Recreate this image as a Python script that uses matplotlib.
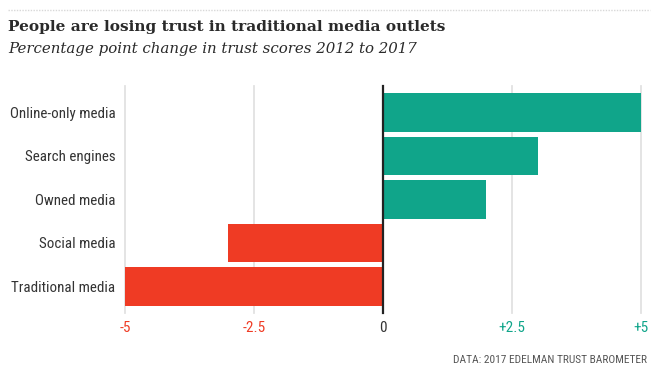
import matplotlib
matplotlib.use("Agg")
import matplotlib.pyplot as plt
from matplotlib import font_manager as fm

categories = ["Online-only media", "Search engines", "Owned media", "Social media", "Traditional media"]
values = [5, 3, 2, -3, -5]
ticks = [-5, -2.5, 0, 2.5, 5]
tick_labels = ["-5", "-2.5", "0", "+2.5", "+5"]

GREEN = "#10a58a"
RED = "#ef3b24"

# find a condensed sans font if one exists
cond_file = None
prefs = ["Liberation Sans Narrow", "Roboto Condensed", "Open Sans Condensed", "DejaVu Sans Condensed", "Noto Sans Condensed"]
entries = fm.fontManager.ttflist
for p in prefs:
    for f in entries:
        if f.name == p and f.weight in (400, "normal", "regular") and f.style == "normal":
            cond_file = f.fname
            break
    if cond_file:
        break
if cond_file is None:
    for f in entries:
        if f.name == "DejaVu Sans" and "Condensed" in f.fname and "Bold" not in f.fname and "Oblique" not in f.fname:
            cond_file = f.fname
            break

def lab_font(size):
    if cond_file:
        return fm.FontProperties(fname=cond_file, size=size)
    return fm.FontProperties(family="DejaVu Sans", size=size * 0.85)

W, H = 659, 389
fig = plt.figure(figsize=(W / 100, H / 100), dpi=100)
ax = fig.add_axes([125 / W, 1 - 308.25 / H, (641 - 125) / W, (308.25 - 90.75) / H])

colors = [GREEN if v >= 0 else RED for v in values]
ax.barh(range(len(categories)), values, height=0.89, color=colors, zorder=2)
ax.set_ylim(len(categories) - 0.5, -0.5)
ax.set_xlim(-5, 5)

for t in ticks:
    if t == 0:
        continue
    ax.axvline(t, ymin=-0.02, ymax=1.02, color="#e2e2e2", lw=1.3, zorder=1, clip_on=False)
ax.axvline(0, ymin=-0.02, ymax=1.02, color="#222222", lw=1.6, zorder=3, clip_on=False)

for s in ax.spines.values():
    s.set_visible(False)
ax.set_yticks(range(len(categories)))
ax.set_yticklabels(categories, color="#333333")
for lbl in ax.get_yticklabels():
    lbl.set_fontproperties(lab_font(10.8))
ax.set_xticks(ticks)
ax.set_xticklabels(tick_labels)
for lbl, t in zip(ax.get_xticklabels(), ticks):
    lbl.set_fontproperties(lab_font(11))
    lbl.set_color(RED if t < 0 else (GREEN if t > 0 else "#333333"))
ax.tick_params(axis="both", length=0)
ax.tick_params(axis="y", pad=7)
ax.tick_params(axis="x", pad=9)

fig.add_artist(plt.Line2D([8 / W, 650 / W], [1 - 10 / H, 1 - 10 / H], color="#d8d8d8", lw=1, ls=(0, (1, 1))))
fig.text(8 / W, 1 - 31 / H, "People are losing trust in traditional media outlets",
         family="DejaVu Serif", fontweight="bold", fontsize=11.1, color="#2a2a2a", va="baseline")
fig.text(8 / W, 1 - 53 / H, "Percentage point change in trust scores 2012 to 2017",
         family="DejaVu Serif", style="italic", fontsize=10.8, color="#2a2a2a", va="baseline")
fig.text(647 / W, 1 - 360 / H, "DATA: 2017 EDELMAN TRUST BAROMETER",
         fontproperties=lab_font(8.2), color="#555555", ha="right", va="center")

fig.savefig("out.png", dpi=100)
